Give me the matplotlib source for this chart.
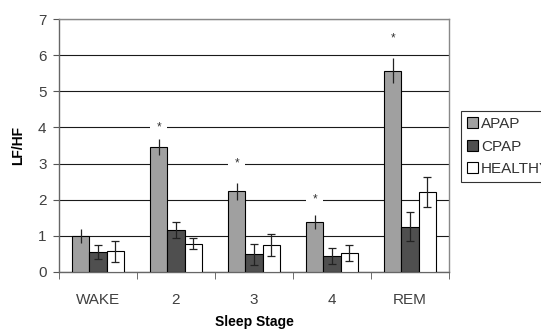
import numpy as np
import matplotlib
matplotlib.use("Agg")
import matplotlib.pyplot as plt

plt.rcParams['font.family'] = ['Liberation Sans', 'DejaVu Sans']

stages = ["WAKE", "2", "3", "4", "REM"]
series = ["APAP", "CPAP", "HEALTHY"]
apap = [1.0, 3.46, 2.23, 1.38, 5.57]
apap_err = [0.2, 0.22, 0.24, 0.2, 0.35]
cpap = [0.56, 1.17, 0.49, 0.43, 1.25]
cpap_err = [0.2, 0.22, 0.29, 0.22, 0.4]
healthy = [0.57, 0.78, 0.75, 0.52, 2.21]
healthy_err = [0.28, 0.15, 0.31, 0.22, 0.41]
# significance markers (stage index, height)
star_pos = [1, 2, 3, 4]
star_y = [4.0, 3.0, 2.0, 6.45]

colors = ["#a0a0a0", "#4f4f4f", "#ffffff"]

fig = plt.figure(figsize=(5.41, 3.29), dpi=100)
ax = fig.add_axes([0.109, 0.1733, 0.721, 0.7689])

x = np.arange(len(stages))
w = 0.222
vals = [apap, cpap, healthy]
errs = [apap_err, cpap_err, healthy_err]
for i in range(3):
    xs = x + (i - 1) * w
    ax.bar(xs, vals[i], w, color=colors[i], edgecolor="black", linewidth=0.8,
           label=series[i], zorder=3)
    cap = 0 if i == 0 else 3.2
    ax.errorbar(xs, vals[i], yerr=errs[i], fmt="none", ecolor="#222222",
                elinewidth=0.9, capsize=cap, capthick=0.9, zorder=4)

for s, yy in zip(star_pos, star_y):
    ax.text(x[s] - w, yy, "*", ha="center", va="center", fontsize=8.5,
            color="#333333", zorder=5,
            bbox=dict(boxstyle="square,pad=0.5", fc="white", ec="none"))

ax.set_xlim(-0.5, 4.5)
ax.set_ylim(0, 7)
ax.set_yticks(range(8))
ax.set_yticklabels([str(i) for i in range(8)], color="#404040", fontsize=11)
ax.yaxis.grid(True, color="#1a1a1a", linewidth=0.8, zorder=0)
ax.set_axisbelow(True)

ax.set_xticks(x)
ax.set_xticklabels(stages, color="#404040", fontsize=11)
ax.tick_params(axis="x", length=0, pad=15)
ax.set_xticks(np.arange(-0.5, 5.0, 1.0), minor=True)
ax.tick_params(axis="x", which="minor", length=5, color="#555555", direction="out")
ax.tick_params(axis="y", length=4, color="#555555", direction="out", pad=5)

for sp in ax.spines.values():
    sp.set_color("#888888")
    sp.set_linewidth(1.0)
ax.spines["left"].set_color("#666666")
ax.spines["bottom"].set_color("#666666")

ax.set_ylabel("LF/HF", fontsize=10, fontweight="bold", labelpad=9)
ax.set_xlabel("Sleep Stage", fontsize=10, fontweight="bold", labelpad=6)

leg = fig.legend(loc="upper left", bbox_to_anchor=(461 / 541, 1 - 111 / 329),
                 borderaxespad=0, frameon=True, fancybox=False,
                 edgecolor="black", fontsize=11,
                 handlelength=0.7, handleheight=0.7, handletextpad=0.2,
                 labelspacing=0.55, borderpad=0.4, labelcolor="#333333")
leg.get_frame().set_linewidth(0.8)
for h in leg.legend_handles:
    h.set_linewidth(0.8)

fig.savefig("out.png", dpi=100)
